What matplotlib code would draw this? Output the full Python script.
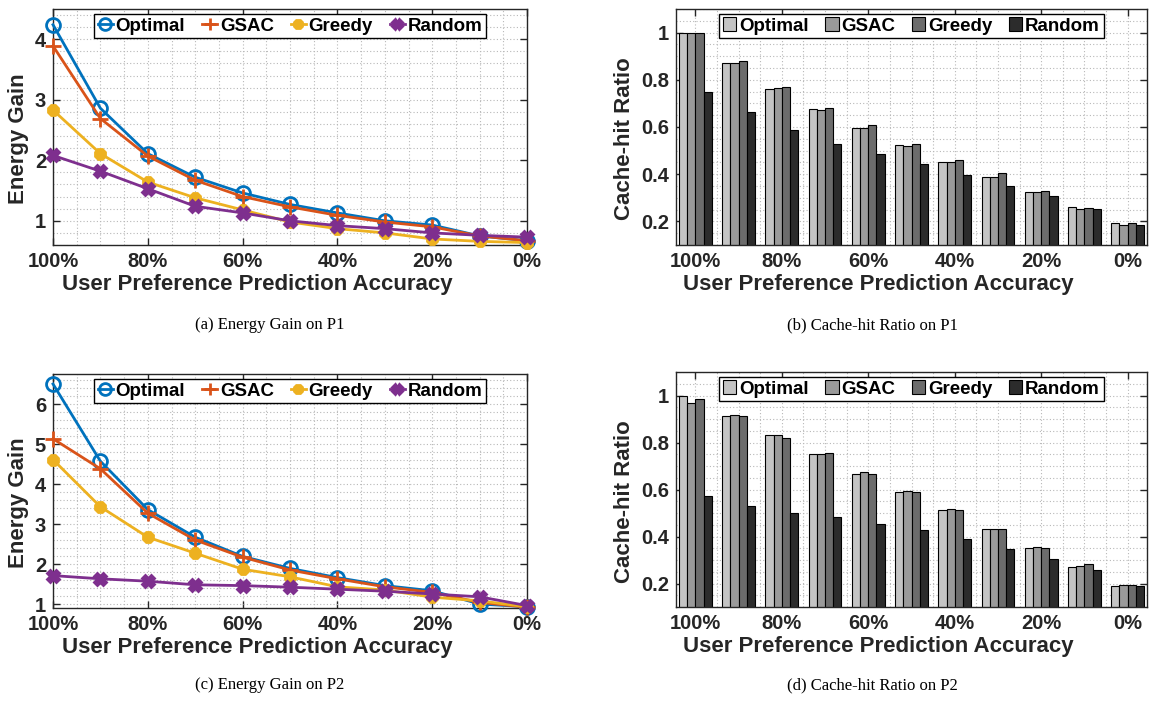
import numpy as np
import matplotlib.pyplot as plt
from matplotlib.ticker import MultipleLocator

plt.rcParams['font.family'] = ['Liberation Sans', 'DejaVu Sans']
plt.rcParams['font.weight'] = 'bold'

# x axis: user preference prediction accuracy (%)
accuracy = [100, 90, 80, 70, 60, 50, 40, 30, 20, 10, 0]
tick_acc = [100, 80, 60, 40, 20, 0]
tick_labels = ['100%', '80%', '60%', '40%', '20%', '0%']
methods = ['Optimal', 'GSAC', 'Greedy', 'Random']

# (a) energy gain on P1
gain_p1_optimal = [4.24, 2.86, 2.11, 1.72, 1.46, 1.27, 1.13, 1.00, 0.93, 0.75, 0.67]
gain_p1_gsac = [3.89, 2.69, 2.07, 1.67, 1.40, 1.23, 1.09, 0.98, 0.90, 0.75, 0.67]
gain_p1_greedy = [2.83, 2.11, 1.64, 1.38, 1.18, 0.98, 0.87, 0.80, 0.70, 0.66, 0.64]
gain_p1_random = [2.08, 1.82, 1.53, 1.24, 1.13, 1.00, 0.92, 0.87, 0.80, 0.76, 0.73]

# (c) energy gain on P2
gain_p2_optimal = [6.50, 4.57, 3.36, 2.67, 2.19, 1.89, 1.66, 1.46, 1.33, 1.00, 0.93]
gain_p2_gsac = [5.13, 4.38, 3.27, 2.60, 2.17, 1.85, 1.63, 1.43, 1.29, 1.04, 0.92]
gain_p2_greedy = [4.61, 3.43, 2.67, 2.27, 1.87, 1.68, 1.43, 1.35, 1.17, 1.08, 0.93]
gain_p2_random = [1.71, 1.63, 1.57, 1.48, 1.46, 1.42, 1.37, 1.32, 1.25, 1.18, 0.96]

# (b) cache-hit ratio on P1
hit_p1_optimal = [0.999, 0.871, 0.762, 0.675, 0.596, 0.522, 0.452, 0.390, 0.323, 0.261, 0.193]
hit_p1_gsac = [1.000, 0.871, 0.765, 0.672, 0.594, 0.521, 0.452, 0.387, 0.323, 0.251, 0.184]
hit_p1_greedy = [1.000, 0.881, 0.769, 0.679, 0.607, 0.528, 0.461, 0.403, 0.328, 0.258, 0.194]
hit_p1_random = [0.750, 0.662, 0.587, 0.530, 0.487, 0.445, 0.396, 0.352, 0.306, 0.251, 0.186]

# (d) cache-hit ratio on P2
hit_p2_optimal = [1.000, 0.913, 0.831, 0.753, 0.668, 0.591, 0.511, 0.431, 0.350, 0.270, 0.189]
hit_p2_gsac = [0.967, 0.916, 0.831, 0.752, 0.674, 0.593, 0.516, 0.431, 0.355, 0.274, 0.193]
hit_p2_greedy = [0.984, 0.911, 0.821, 0.757, 0.665, 0.590, 0.512, 0.434, 0.352, 0.284, 0.193]
hit_p2_random = [0.574, 0.528, 0.501, 0.484, 0.452, 0.427, 0.390, 0.348, 0.305, 0.258, 0.190]

line_colors = ['#0072BD', '#D95319', '#EDB120', '#7E2F8E']
bar_colors = ['#c4c4c4', '#9a9a9a', '#6c6c6c', '#2c2c2c']
TXT = '#262626'
GRID = dict(color='#b8b8b8', linestyle=(0, (1, 2)), linewidth=0.8)

W, H = 1149, 706
fig = plt.figure(figsize=(W / 100, H / 100), dpi=100)


def px_axes(l, t, r, b):
    return fig.add_axes([l / W, 1 - b / H, (r - l) / W, (b - t) / H])


def style_axes(ax, ylabel):
    for s in ax.spines.values():
        s.set_color(TXT)
        s.set_linewidth(1.0)
    ax.tick_params(which='both', direction='in', top=True, right=True,
                   colors=TXT, labelsize=14.5, width=1.0)
    ax.tick_params(which='major', length=5, pad=5)
    ax.tick_params(which='minor', length=0)
    ax.grid(which='both', **GRID)
    ax.set_axisbelow(True)
    ax.set_xlabel('User Preference Prediction Accuracy', fontsize=16,
                  fontweight='bold', color=TXT, labelpad=2)
    ax.set_ylabel(ylabel, fontsize=16, fontweight='bold', color=TXT,
                  labelpad=4)
    # labels sit a little off-centre in the original
    ax.xaxis.label.set_x(0.43)
    ax.yaxis.label.set_y(0.45)


def legend(ax, **kw):
    leg = ax.legend(loc='upper center', ncol=4, frameon=True, fancybox=False,
                    edgecolor='black', handletextpad=0.15, columnspacing=0.9,
                    borderpad=0.2, borderaxespad=0.25,
                    prop={'weight': 'bold', 'size': 13.5}, **kw)
    leg.get_frame().set_linewidth(1.0)
    leg.get_frame().set_alpha(1)


def line_panel(ax, series, ylim, yticks):
    markers = ['o', '+', '8', 'X']
    sizes = [10, 11, 7.5, 8]
    for vals, name, c, m, s in zip(series, methods, line_colors, markers, sizes):
        filled = m in ('8', 'X')
        ax.plot(accuracy, vals, color=c, lw=2, marker=m, ms=s, mew=2,
                mfc=c if filled else 'none', mec=c, label=name, clip_on=False,
                zorder=3)
    ax.set_xlim(100, 0)
    ax.set_xticks(tick_acc)
    ax.set_xticklabels(tick_labels)
    ax.xaxis.set_minor_locator(MultipleLocator(5))
    ax.set_ylim(*ylim)
    ax.set_yticks(yticks)
    ax.yaxis.set_minor_locator(MultipleLocator(0.2))
    style_axes(ax, 'Energy Gain')
    legend(ax, handlelength=0.8, markerscale=0.85)


def bar_panel(ax, series):
    x = np.arange(len(accuracy))
    w = 0.19
    for k, (vals, name, c) in enumerate(zip(series, methods, bar_colors)):
        ax.bar(x + (k - 1.5) * w, vals, w, color=c, edgecolor='black',
               linewidth=0.8, label=name, zorder=2)
    ax.set_xlim(-0.45, len(accuracy) - 0.55)
    ax.set_xticks(x[::2])
    ax.set_xticklabels(tick_labels)
    ax.xaxis.set_minor_locator(MultipleLocator(0.5))
    ax.set_ylim(0.1, 1.1)
    ax.set_yticks([0.2, 0.4, 0.6, 0.8, 1.0])
    ax.set_yticklabels(['0.2', '0.4', '0.6', '0.8', '1'])
    ax.yaxis.set_minor_locator(MultipleLocator(0.05))
    style_axes(ax, 'Cache-hit Ratio')
    legend(ax, handlelength=0.7, handleheight=0.7)


ax_a = px_axes(53, 9, 527, 245)
line_panel(ax_a, [gain_p1_optimal, gain_p1_gsac, gain_p1_greedy, gain_p1_random],
           (0.6, 4.5), [1, 2, 3, 4])

ax_b = px_axes(676, 9, 1147, 245)
bar_panel(ax_b, [hit_p1_optimal, hit_p1_gsac, hit_p1_greedy, hit_p1_random])

ax_c = px_axes(53, 374, 527, 608)
line_panel(ax_c, [gain_p2_optimal, gain_p2_gsac, gain_p2_greedy, gain_p2_random],
           (0.9, 6.75), [1, 2, 3, 4, 5, 6])

ax_d = px_axes(676, 372, 1147, 607)
bar_panel(ax_d, [hit_p2_optimal, hit_p2_gsac, hit_p2_greedy, hit_p2_random])

cap = dict(ha='center', va='center', fontsize=12, fontweight='normal',
           family=['Liberation Serif', 'DejaVu Serif'], color='black')
fig.text(270 / W, 1 - 325 / H, '(a) Energy Gain on P1', **cap)
fig.text(872 / W, 1 - 325 / H, '(b) Cache-hit Ratio on P1', **cap)
fig.text(270 / W, 1 - 685 / H, '(c) Energy Gain on P2', **cap)
fig.text(872 / W, 1 - 685 / H, '(d) Cache-hit Ratio on P2', **cap)

fig.savefig('out.png', dpi=100)
